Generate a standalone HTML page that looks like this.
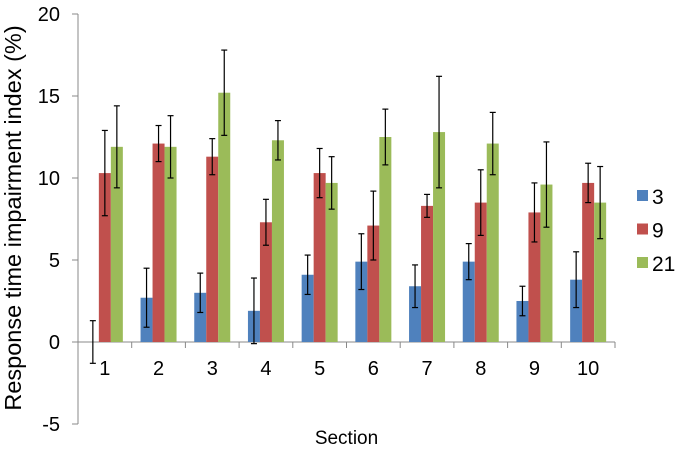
<!DOCTYPE html>
<html><head><meta charset="utf-8"><style>
body{margin:0;background:#fff}
svg{display:block;font-family:"Liberation Sans",sans-serif}
</style></head><body>
<svg id="c" width="675" height="449"></svg>
<script>
const categories=["1","2","3","4","5","6","7","8","9","10"];
const seriesNames=["3","9","21"];
const s3=[0.0,2.7,3.0,1.9,4.1,4.9,3.4,4.9,2.5,3.8];
const s9=[10.3,12.1,11.3,7.3,10.3,7.1,8.3,8.5,7.9,9.7];
const s21=[11.9,11.9,15.2,12.3,9.7,12.5,12.8,12.1,9.6,8.5];
const e3=[1.3,1.8,1.2,2.0,1.2,1.7,1.3,1.1,0.9,1.7];
const e9=[2.6,1.1,1.1,1.4,1.5,2.1,0.7,2.0,1.8,1.2];
const e21=[2.5,1.9,2.6,1.2,1.6,1.7,3.4,1.9,2.6,2.2];
const yTicks=[-5,0,5,10,15,20];
const colors=["#4f81bd","#c0504d","#9bbb59"];
const NS="http://www.w3.org/2000/svg";
const svg=document.getElementById('c');
const x0=78,cw=53.7,bw=12;
function y(v){return 342-v*16.4;}
function cx(i){return x0+cw*(i+0.5);}
function mk(t,a,p){const e=document.createElementNS(NS,t);for(const k in a)e.setAttribute(k,a[k]);(p||svg).appendChild(e);return e;}
let ax=mk('line',{x1:x0,y1:y(20),x2:x0,y2:y(-5),stroke:'#888','stroke-width':1});

yTicks.forEach(t=>{
  mk('line',{x1:x0-6,y1:y(t),x2:x0,y2:y(t),stroke:'#888'});
  let tx=mk('text',{x:x0-18,y:y(t)+7,'text-anchor':'end','font-size':20,fill:'#000'});tx.textContent=t;
  
});
let xa=mk('line',{x1:x0,y1:y(0),x2:x0+cw*10,y2:y(0),stroke:'#888'});

for(let i=0;i<=10;i++)mk('line',{x1:x0+cw*i,y1:y(0),x2:x0+cw*i,y2:y(0)+6,stroke:'#888'});
const vals=[s3,s9,s21],errs=[e3,e9,e21];
categories.forEach((c,i)=>{
  let tx=mk('text',{x:cx(i),y:y(0)+33,'text-anchor':'middle','font-size':20});tx.textContent=c;
  
  vals.forEach((s,j)=>{
    const v=s[i],bx=cx(i)+(j-1)*bw-bw/2;
    const r=mk('rect',{x:bx,y:Math.min(y(v),y(0)),width:bw,height:Math.abs(y(v)-y(0)),fill:colors[j]});
    
    
    const m=bx+bw/2,e=errs[j][i];
    const g=mk('g',{stroke:'#000','stroke-width':1.2});
    
    
    mk('line',{x1:m,y1:y(v+e),x2:m,y2:y(v-e)},g);
    mk('line',{x1:m-3,y1:y(v+e),x2:m+3,y2:y(v+e)},g);
    mk('line',{x1:m-3,y1:y(v-e),x2:m+3,y2:y(v-e)},g);
  });
});
seriesNames.forEach((n,j)=>{
  const ly=190+j*33.5;
  const r=mk('rect',{x:637,y:ly,width:11,height:11,fill:colors[j]});
  
  const t=mk('text',{x:652,y:ly+14,'font-size':21});t.textContent=n;
  
});
let xt=mk('text',{x:x0+cw*5,y:444,'text-anchor':'middle','font-size':19});xt.textContent='Section';

let yt=mk('text',{x:0,y:0,'text-anchor':'middle','font-size':23.5,transform:'translate(21,218) rotate(-90)'});yt.textContent='Response time impairment index (%)';

</script>
</body></html>
